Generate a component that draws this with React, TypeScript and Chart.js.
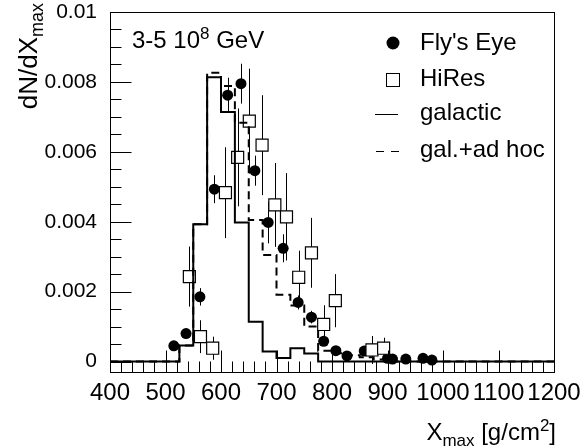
import React, { useEffect, useRef } from 'react';
import { Chart, registerables } from 'chart.js';

Chart.register(...registerables);

const FONT = "'Liberation Sans', Arial, Helvetica, sans-serif";

// ---- data ----
const flyX = [515, 537, 562, 588, 612, 636, 661, 685, 712, 739, 763, 785, 807, 827, 858, 900, 909, 933, 964, 980];
const flyY = [0.00045, 0.0008, 0.00185, 0.00493, 0.00762, 0.00795, 0.00546, 0.00398, 0.00324, 0.00169, 0.00127, 0.00058, 0.00031, 0.00016, 0.0003, 0.00009, 0.00007, 0.00007, 0.00009, 0.00004];
const flyErr = [0.00008, 0.00015, 0.00025, 0.0004, 0.0005, 0.00057, 0.00043, 0.0006, 0.0004, 0.0002, 0.00018, 0.0001, 0.00008, 0.00006, 0.00008, 0, 0, 0, 0, 0];

const hiresX = [543, 563, 585, 608, 630, 651, 674, 697, 718, 740, 763, 785, 806, 872, 893];
const hiresY = [0.00243, 0.00071, 0.00038, 0.00483, 0.00584, 0.00688, 0.00619, 0.00448, 0.00414, 0.00241, 0.00311, 0.00106, 0.00174, 0.00033, 0.00038];
const hiresErr = [0.00086, 0.00047, 0.00033, 0.0013, 0.0014, 0.0015, 0.00143, 0.0012, 0.00125, 0.00076, 0.001, 0.00055, 0.00076, 0.0004, 0.0003];

const galEdges = [400, 525, 550, 575, 600, 625, 650, 675, 700, 725, 750, 775, 1200];
const galValues = [0, 0.00046, 0.00393, 0.00813, 0.00714, 0.00398, 0.00114, 0.00029, 0.0001, 0.00038, 0.00023, 0];

const adhocEdges = [400, 525, 550, 575, 600, 625, 650, 675, 700, 725, 750, 775, 800, 825, 850, 875, 900, 1200];
const adhocValues = [0, 0.00046, 0.00393, 0.00826, 0.00788, 0.00683, 0.00405, 0.00305, 0.00191, 0.0016, 0.001, 0.00031, 0.00024, 0.00018, 0.00012, 0.00006, 0];

const seriesLabels = ["Fly's Eye", 'HiRes', 'galactic', 'gal.+ad hoc'];
const energyLabel = ['3-5 10', '8', ' GeV'];
const xTitle = ['X', 'max', ' [g/cm', '2', ']'];
const yTitle = ['dN/dX', 'max'];

const xMin = 400;
const xMax = 1200;
const xStep = 100;
const yMin = -0.0003;
const yMax = 0.01;
const yStep = 0.002;

// ---- helpers ----
function histPoints(edges: number[], values: number[]) {
  return edges.map((e, i) => ({ x: e, y: values[Math.min(i, values.length - 1)] }));
}

type Part = { t: string; s: number; dy: number };

function partsWidth(ctx: CanvasRenderingContext2D, parts: Part[]) {
  let w = 0;
  for (const p of parts) {
    ctx.font = `${p.s}px ${FONT}`;
    w += ctx.measureText(p.t).width;
  }
  return w;
}

function drawParts(ctx: CanvasRenderingContext2D, parts: Part[], x: number, y: number) {
  let cx = x;
  for (const p of parts) {
    ctx.font = `${p.s}px ${FONT}`;
    ctx.fillText(p.t, cx, y + p.dy);
    cx += ctx.measureText(p.t).width;
  }
}

const errorMap: Record<string, number[]> = {
  [seriesLabels[0]]: flyErr,
  [seriesLabels[1]]: hiresErr,
};

const errorBarPlugin = {
  id: 'errorBars',
  beforeDatasetsDraw(chart: any) {
    const { ctx, scales } = chart;
    const x = scales.x;
    const y = scales.y;
    ctx.save();
    ctx.strokeStyle = '#000';
    ctx.lineWidth = 1;
    chart.data.datasets.forEach((ds: any) => {
      const errs = errorMap[ds.label];
      if (!errs) return;
      ds.data.forEach((p: any, j: number) => {
        const e = errs[j];
        if (!e) return;
        const px = Math.round(x.getPixelForValue(p.x)) + 0.5;
        ctx.beginPath();
        ctx.moveTo(px, y.getPixelForValue(p.y - e));
        ctx.lineTo(px, y.getPixelForValue(p.y + e));
        ctx.stroke();
      });
    });
    ctx.restore();
  },
};

const framePlugin = {
  id: 'frameTicks',
  afterDatasetsDraw(chart: any) {
    const { ctx, chartArea: a, scales } = chart;
    const x = scales.x;
    const y = scales.y;
    ctx.save();
    ctx.strokeStyle = '#000';
    ctx.lineWidth = 1;
    const L = Math.round(a.left) + 0.5;
    const R = Math.round(a.right) + 0.5;
    const T = Math.round(a.top) + 0.5;
    const B = Math.round(a.bottom) + 0.5;
    ctx.strokeRect(L, T, R - L, B - T);
    ctx.beginPath();
    const yt: number[] = y.ticks.map((t: any) => t.value);
    yt.forEach((v) => {
      const py = Math.round(y.getPixelForValue(v)) + 0.5;
      ctx.moveTo(L, py);
      ctx.lineTo(L + 21, py);
    });
    for (let i = 0; i < yt.length - 1; i++) {
      const st = (yt[i + 1] - yt[i]) / 4;
      for (let k = 1; k < 4; k++) {
        const py = Math.round(y.getPixelForValue(yt[i] + k * st)) + 0.5;
        ctx.moveTo(L, py);
        ctx.lineTo(L + 11, py);
      }
    }
    const xt: number[] = x.ticks.map((t: any) => t.value);
    xt.forEach((v) => {
      const px = Math.round(x.getPixelForValue(v)) + 0.5;
      ctx.moveTo(px, B);
      ctx.lineTo(px, B - 22);
    });
    for (let i = 0; i < xt.length - 1; i++) {
      const st = (xt[i + 1] - xt[i]) / 5;
      for (let k = 1; k < 5; k++) {
        const px = Math.round(x.getPixelForValue(xt[i] + k * st)) + 0.5;
        ctx.moveTo(px, B);
        ctx.lineTo(px, B - 11);
      }
    }
    ctx.stroke();
    ctx.restore();
  },
};

const textPlugin = {
  id: 'texts',
  afterDraw(chart: any) {
    const { ctx, chartArea: a } = chart;
    ctx.save();
    ctx.fillStyle = '#000';
    ctx.textAlign = 'left';
    ctx.textBaseline = 'alphabetic';

    // energy annotation
    drawParts(
      ctx,
      [
        { t: energyLabel[0], s: 24, dy: 0 },
        { t: energyLabel[1], s: 17, dy: -9 },
        { t: energyLabel[2], s: 24, dy: 0 },
      ],
      a.left + 22,
      48
    );

    // x title (right aligned to frame)
    const xt: Part[] = [
      { t: xTitle[0], s: 24, dy: 0 },
      { t: xTitle[1], s: 17, dy: 6 },
      { t: xTitle[2], s: 24, dy: 0 },
      { t: xTitle[3], s: 17, dy: -9 },
      { t: xTitle[4], s: 24, dy: 0 },
    ];
    const xw = partsWidth(ctx, xt);
    drawParts(ctx, xt, a.right - xw + 2, 440);

    // y title (rotated, right aligned to top)
    const yp: Part[] = [
      { t: yTitle[0], s: 26, dy: 0 },
      { t: yTitle[1], s: 18, dy: 6 },
    ];
    const yw = partsWidth(ctx, yp);
    ctx.save();
    ctx.translate(37, 3 + yw);
    ctx.rotate(-Math.PI / 2);
    drawParts(ctx, yp, 0, 0);
    ctx.restore();

    // legend
    const mx = 392;
    const tx = 420;
    const rows = [50, 86, 120, 157];
    ctx.font = `24px ${FONT}`;
    seriesLabels.forEach((lab, i) => ctx.fillText(lab, tx, rows[i]));
    ctx.beginPath();
    ctx.arc(mx + 1, 43, 6.5, 0, Math.PI * 2);
    ctx.fill();
    ctx.fillStyle = '#fff';
    ctx.strokeStyle = '#000';
    ctx.lineWidth = 1;
    ctx.fillRect(mx - 6, 73, 13, 13);
    ctx.strokeRect(mx - 6 + 0.5, 73 + 0.5, 13, 13);
    ctx.beginPath();
    ctx.moveTo(375, 114.5);
    ctx.lineTo(398, 114.5);
    ctx.stroke();
    ctx.setLineDash([8, 7]);
    ctx.beginPath();
    ctx.moveTo(376, 151.5);
    ctx.lineTo(399, 151.5);
    ctx.stroke();
    ctx.restore();
  },
};

export default function App() {
  const ref = useRef<HTMLCanvasElement | null>(null);

  useEffect(() => {
    if (!ref.current) return;
    const chart = new Chart(ref.current, {
      type: 'line',
      data: {
        datasets: [
          {
            label: seriesLabels[2],
            data: histPoints(galEdges, galValues),
            stepped: true,
            borderColor: '#000',
            borderWidth: 2,
            pointRadius: 0,
            fill: false,
            order: 0,
          },
          {
            label: seriesLabels[3],
            data: histPoints(adhocEdges, adhocValues),
            stepped: true,
            borderColor: '#000',
            borderWidth: 2,
            borderDash: [8, 5],
            pointRadius: 0,
            fill: false,
            order: 1,
          },
          {
            label: seriesLabels[1],
            data: hiresX.map((x, i) => ({ x, y: hiresY[i] })),
            showLine: false,
            pointStyle: 'rect',
            pointRadius: 8.5,
            pointBackgroundColor: '#fff',
            pointBorderColor: '#000',
            pointBorderWidth: 1.2,
            order: 2,
          },
          {
            label: seriesLabels[0],
            data: flyX.map((x, i) => ({ x, y: flyY[i] })),
            showLine: false,
            pointStyle: 'circle',
            pointRadius: 5.5,
            pointBackgroundColor: '#000',
            pointBorderColor: '#000',
            pointBorderWidth: 0,
            order: 3,
          },
        ],
      },
      options: {
        responsive: false,
        animation: false,
        devicePixelRatio: 1,
        events: [],
        layout: { padding: { top: 12, right: 30, left: 0, bottom: 0 } },
        plugins: {
          legend: { display: false },
          tooltip: { enabled: false },
        },
        scales: {
          x: {
            type: 'linear',
            min: xMin,
            max: xMax,
            grid: { display: false, drawTicks: false },
            border: { display: false },
            ticks: {
              stepSize: xStep,
              autoSkip: false,
              maxRotation: 0,
              minRotation: 0,
              includeBounds: false,
              padding: 9,
              color: '#000',
              font: { family: FONT, size: 24, lineHeight: 1 },
              callback: (v: any) => String(v),
            },
            afterFit: (s: any) => {
              s.height = 76;
              s.paddingLeft = 0;
              s.paddingRight = 0;
            },
          },
          y: {
            type: 'linear',
            min: yMin,
            max: yMax,
            grid: { display: false, drawTicks: false },
            border: { display: false },
            ticks: {
              stepSize: yStep,
              includeBounds: false,
              padding: 13,
              color: '#000',
              font: { family: FONT, size: 21, lineHeight: 1 },
              callback: (v: any) => (v === 0 ? '0' : String(+Number(v).toFixed(4))),
            },
            afterFit: (s: any) => {
              s.width = 110;
              s.paddingTop = 0;
              s.paddingBottom = 0;
            },
          },
        },
      },
      plugins: [errorBarPlugin, framePlugin, textPlugin],
    } as any);
    return () => chart.destroy();
  }, []);

  return (
    <div style={{ position: 'absolute', left: 0, top: 0, width: 584, height: 448, background: '#fff' }}>
      <canvas ref={ref} width={584} height={448} />
    </div>
  );
}
